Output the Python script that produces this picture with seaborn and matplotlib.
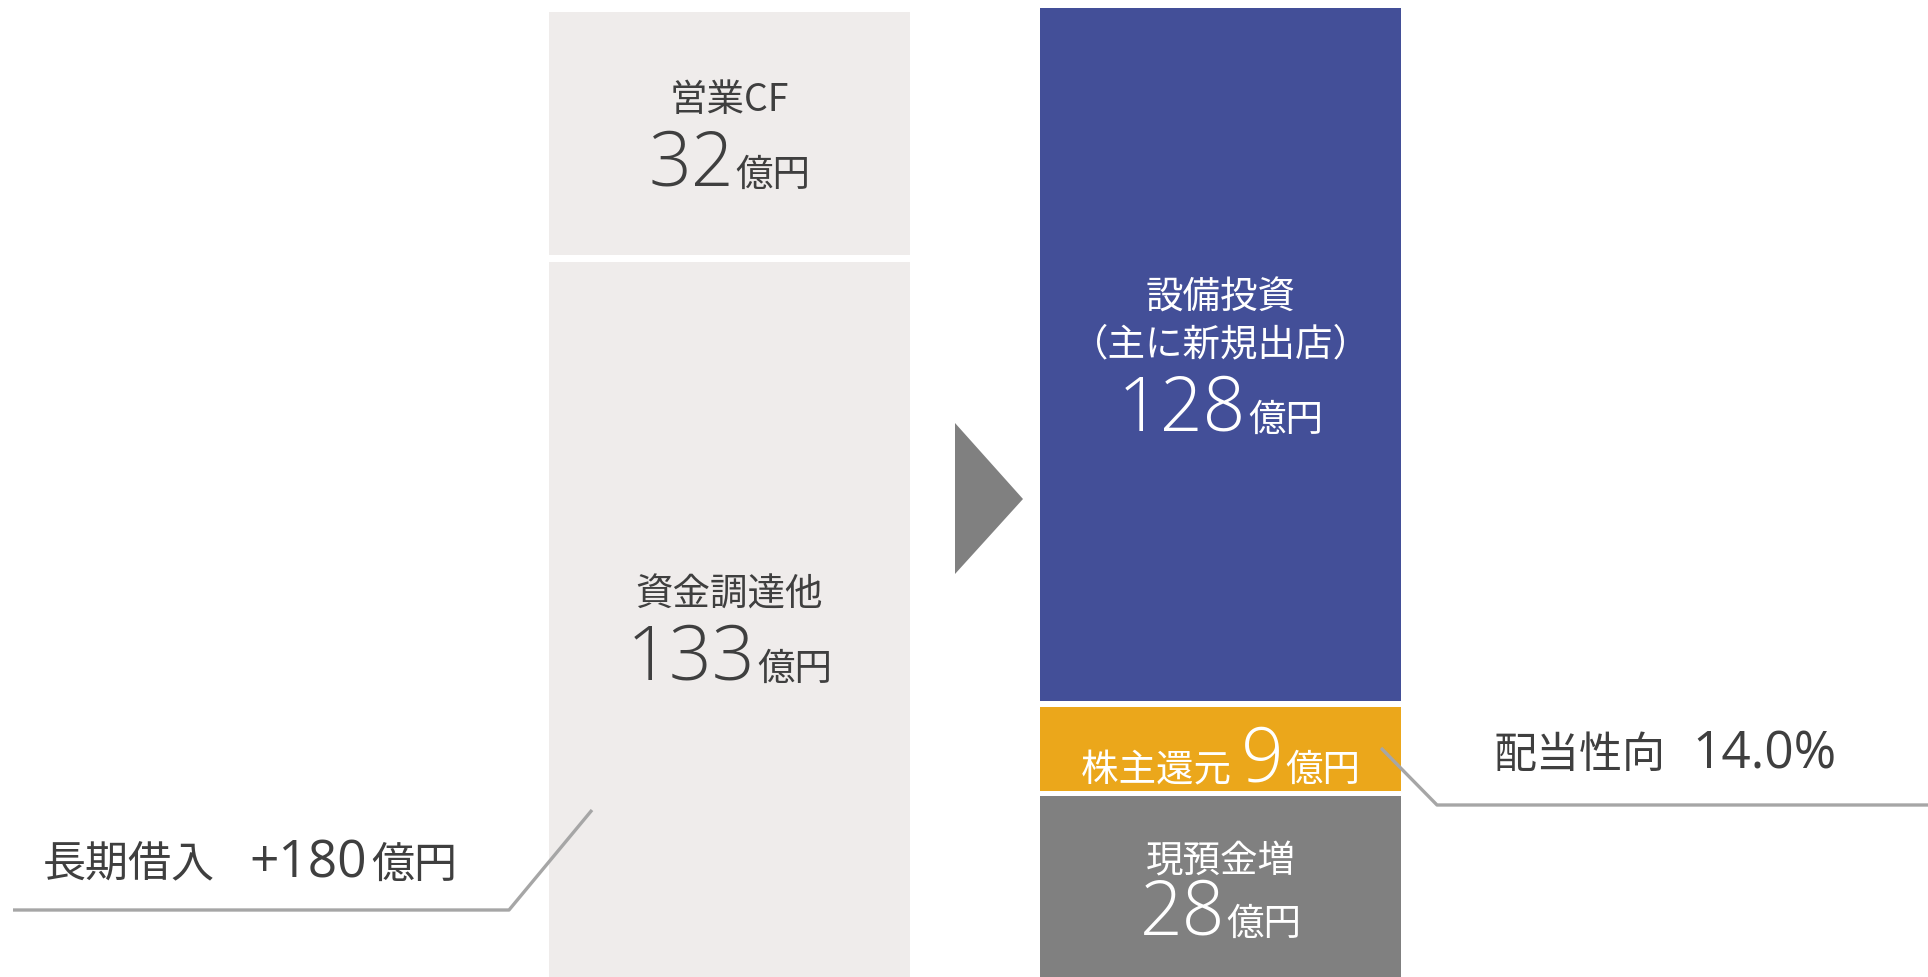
import matplotlib
matplotlib.use("Agg")
import matplotlib.pyplot as plt
import seaborn as sns
import pandas as pd
from matplotlib.offsetbox import TextArea, HPacker, VPacker, AnnotationBbox
from matplotlib.patches import Polygon
from matplotlib.lines import Line2D

# ---------------- data ----------------
columns = ["調達", "使途"]

source_labels = ["資金調達他", "営業CF"]          # bottom -> top
source_values = [133, 32]                          # 億円
source_blocks = [715, 243]                         # block heights as drawn (chart is schematic)

use_labels = ["現預金増", "株主還元", "設備投資\n（主に新規出店）"]   # bottom -> top
use_values = [28, 9, 128]                          # 億円
use_blocks = [181, 84, 693]                        # block heights as drawn

unit = "億円"
borrow_label, borrow_value, borrow_unit = "長期借入", "+180", "億円"
payout_label, payout_value, payout_unit = "配当性向", "14.0%", ""

# ---------------- style ----------------
W, H = 1928, 978
source_color = "#EFECEB"
use_colors = ["#808080", "#EBA71B", "#434F98"]
dark_text = "#3F3F3F"
leader_color = "#A6A6A6"
src_nudge = [16, 8]        # px downward for the text boxes
use_nudge = [10, 12, 8]
src_sep = [6, 6]
use_sep = [-3, 0, 6]

sns.set_theme(style="white")
plt.rcParams["font.family"] = ["Noto Sans CJK JP", "DejaVu Sans"]
NUM_FAMILY = ["Open Sans", "Noto Sans CJK JP", "DejaVu Sans"]

fig = plt.figure(figsize=(W / 100, H / 100), dpi=100)
ax = fig.add_axes([0, 0, 1, 1])

bar_width = 361 / 491


def draw_stack(col, blocks, colors, gap):
    bottom = 0.0
    centers = []
    for blk, colr in zip(blocks, colors):
        df = pd.DataFrame({"col": [col], "height": [blk]})
        sns.barplot(data=df, x="col", y="height", order=columns, color=colr,
                    width=bar_width, bottom=bottom, errorbar=None,
                    linewidth=0, saturation=1, ax=ax)
        centers.append(bottom + blk / 2)
        bottom += blk + gap
    return centers


src_centers = draw_stack(columns[0], source_blocks, [source_color] * len(source_blocks), 7)
use_centers = draw_stack(columns[1], use_blocks, use_colors, 5.5)

ax.set_xlim(-729.5 / 491, (W - 729.5) / 491)
ax.set_ylim(0, H)
ax.axis("off")

LABEL_FS = 27
NUM_FS = 54
UNIT_FS = 27


def num_row(value, color, prefix=None):
    kids = []
    if prefix is not None:
        kids.append(TextArea(prefix + " ", textprops=dict(fontsize=LABEL_FS, color=color)))
    kids.append(TextArea(str(value), textprops=dict(fontsize=NUM_FS, color=color,
                                                    family=NUM_FAMILY, fontweight="light")))
    kids.append(TextArea(unit, textprops=dict(fontsize=UNIT_FS, color=color)))
    return HPacker(children=kids, align="baseline", pad=0, sep=1)


def value_box(lines, value, color, sep_lines=6):
    items = [TextArea(ln, textprops=dict(fontsize=LABEL_FS, color=color)) for ln in lines]
    items.append(num_row(value, color))
    return VPacker(children=items, align="center", pad=0, sep=sep_lines)


def place(box, x, y):
    ab = AnnotationBbox(box, (x, y), xycoords="data", frameon=False,
                        box_alignment=(0.5, 0.5), pad=0, zorder=5)
    ax.add_artist(ab)


# left column labels
for lab, val, cy, nd, sp in zip(source_labels, source_values, src_centers, src_nudge, src_sep):
    place(value_box([lab], val, dark_text, sp), 0, cy - nd)

# right column labels
for i, (lab, val, cy, nd, sp) in enumerate(zip(use_labels, use_values, use_centers,
                                                use_nudge, use_sep)):
    if i == 1:
        place(num_row(val, "white", prefix=lab), 1, cy - nd)
    else:
        place(value_box(lab.split("\n"), val, "white", sp), 1, cy - nd)


def px(x, y):
    return x / W, 1 - y / H


# arrow triangle
tri = Polygon([px(955, 424), px(955, 575), px(1023, 500)], closed=True,
              transform=fig.transFigure, facecolor="#808080", edgecolor="none", zorder=3)
fig.patches.append(tri)

# leader lines
for pts in ([(13, 911), (509, 911), (592, 811)], [(1381, 749), (1437, 806), (1928, 806)]):
    xs, ys = zip(*[px(*p) for p in pts])
    fig.lines.append(Line2D(xs, ys, transform=fig.transFigure, color=leader_color,
                            linewidth=2.4, solid_capstyle="butt", zorder=6))


def callout(label, value, unit_txt, x, y, sep):
    kids = [
        TextArea(label, textprops=dict(fontsize=31, color=dark_text)),
        TextArea(value, textprops=dict(fontsize=37, color=dark_text, family=NUM_FAMILY)),
    ]
    if unit_txt:
        kids.append(TextArea(unit_txt, textprops=dict(fontsize=31, color=dark_text)))
    box = HPacker(children=[kids[0], HPacker(children=kids[1:], align="baseline", pad=0, sep=3)],
                  align="baseline", pad=0, sep=sep)
    ab = AnnotationBbox(box, px(x, y), xycoords="figure fraction", frameon=False,
                        box_alignment=(0, 0.5), pad=0, zorder=7)
    fig.add_artist(ab)


callout(borrow_label, borrow_value, borrow_unit, 43, 864, 25)
callout(payout_label, payout_value, payout_unit, 1494, 755, 19)

fig.savefig("out.png", dpi=100, facecolor="white")
